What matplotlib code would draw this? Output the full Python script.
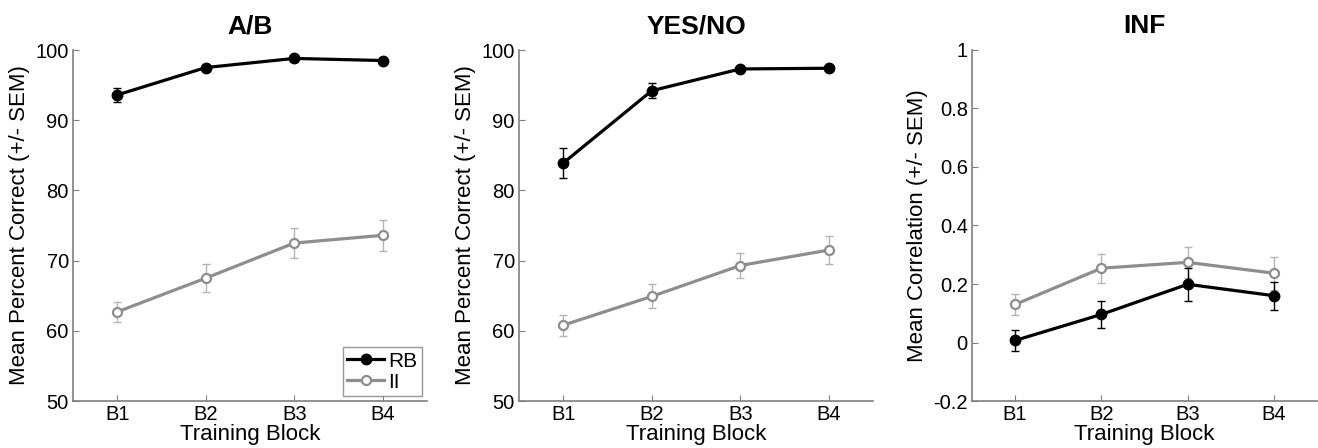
import matplotlib
matplotlib.use("Agg")
import matplotlib.pyplot as plt

plt.rcParams["font.family"] = ["Liberation Sans", "DejaVu Sans"]

blocks = ["B1", "B2", "B3", "B4"]
x = [1, 2, 3, 4]

# A/B
ab_rb = [93.6, 97.5, 98.8, 98.5]
ab_rb_err = [1.0, 0.4, 0.3, 0.3]
ab_ii = [62.7, 67.5, 72.5, 73.6]
ab_ii_err = [1.4, 2.0, 2.2, 2.2]

# YES/NO
yn_rb = [83.9, 94.2, 97.3, 97.4]
yn_rb_err = [2.1, 1.1, 0.3, 0.3]
yn_ii = [60.8, 64.9, 69.3, 71.5]
yn_ii_err = [1.5, 1.7, 1.8, 2.0]

# INF
inf_rb = [0.007, 0.096, 0.199, 0.160]
inf_rb_err = [0.036, 0.047, 0.057, 0.048]
inf_ii = [0.130, 0.254, 0.274, 0.237]
inf_ii_err = [0.035, 0.050, 0.052, 0.057]

titles = ["A/B", "YES/NO", "INF"]
ylabels = ["Mean Percent Correct (+/- SEM)", "Mean Percent Correct (+/- SEM)",
           "Mean Correlation (+/- SEM)"]
ylims = [(50, 100), (50, 100), (-0.2, 1)]
yticks = [[50, 60, 70, 80, 90, 100], [50, 60, 70, 80, 90, 100],
          [-0.2, 0, 0.2, 0.4, 0.6, 0.8, 1]]
yticklabels = [None, None, ["-0.2", "0", "0.2", "0.4", "0.6", "0.8", "1"]]
series = [(ab_rb, ab_rb_err, ab_ii, ab_ii_err),
          (yn_rb, yn_rb_err, yn_ii, yn_ii_err),
          (inf_rb, inf_rb_err, inf_ii, inf_ii_err)]

lefts = [73 / 1318, 519 / 1318, 972 / 1318]
widths = [354 / 1318, 354 / 1318, 345 / 1318]

fig = plt.figure(figsize=(13.18, 4.48), dpi=100)
axis_grey = "#7f7f7f"
ii_line = "#8e8e8e"
ii_err = "#b4b4b4"

for i in range(3):
    ax = fig.add_axes([lefts[i], 47 / 448, widths[i], 351 / 448])
    rb, rb_e, ii, ii_e = series[i]

    ax.errorbar(x, ii, yerr=ii_e, fmt="none", ecolor=ii_err, elinewidth=1,
                capsize=3, capthick=1, zorder=2)
    ax.plot(x, ii, color=ii_line, lw=2.3, marker="o", ms=6.5, mfc="white",
            mec=ii_line, mew=1.6, label="II", zorder=3)
    ax.errorbar(x, rb, yerr=rb_e, fmt="none", ecolor="black", elinewidth=1,
                capsize=3, capthick=1, zorder=4)
    ax.plot(x, rb, color="black", lw=2.3, marker="o", ms=7.5, mfc="black",
            mec="black", label="RB", zorder=5)

    ax.set_xlim(0.5, 4.5)
    ax.set_ylim(*ylims[i])
    ax.set_xticks(x)
    ax.set_xticklabels(blocks)
    ax.set_yticks(yticks[i])
    if yticklabels[i]:
        ax.set_yticklabels(yticklabels[i])
    ax.tick_params(direction="in", length=4, color=axis_grey, labelsize=14.5, pad=3)
    for s in ["top", "right"]:
        ax.spines[s].set_visible(False)
    for s in ["left", "bottom"]:
        ax.spines[s].set_color(axis_grey)
        ax.spines[s].set_linewidth(1.2)

    ax.set_title(titles[i], fontsize=19, fontweight="bold", pad=12)
    ax.set_ylabel(ylabels[i], fontsize=16, labelpad=4)
    ax.set_xlabel("Training Block", fontsize=16, labelpad=0)

    if i == 0:
        h, l = ax.get_legend_handles_labels()
        leg = ax.legend(h[::-1], l[::-1], loc="lower right", fontsize=15,
                        frameon=True, fancybox=False, handlelength=1.8,
                        borderaxespad=0.25, handletextpad=0.2, labelspacing=0.1,
                        borderpad=0.2)
        leg.get_frame().set_edgecolor(axis_grey)
        leg.get_frame().set_linewidth(1.0)

fig.savefig("out.png", dpi=100)
